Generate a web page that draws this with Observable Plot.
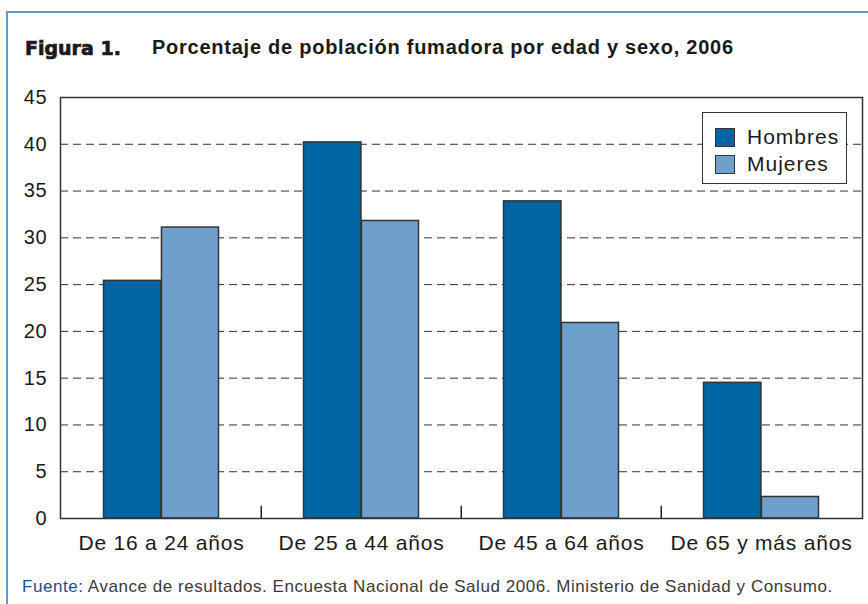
<!DOCTYPE html>
<html>
<head>
<meta charset="utf-8">
<script src="https://cdn.jsdelivr.net/npm/d3@7"></script>
<script src="https://cdn.jsdelivr.net/npm/@observablehq/plot@0.6"></script>
<style>
  html, body { margin: 0; padding: 0; background: #fff; }
  #wrap { position: relative; width: 868px; height: 604px; overflow: hidden; font-family: "Liberation Sans", Arial, sans-serif; }
  #border { position: absolute; left: 6px; top: 11px; width: 900px; height: 700px; border-top: 2px solid #5b9cce; border-left: 2px solid #5b9cce; }
  #fig { position: absolute; left: 25px; top: 37px; font-family: "DejaVu Sans", sans-serif; font-weight: bold; font-size: 19px; line-height: 22px; color: #1a1a1a; -webkit-text-stroke: 0.7px #1a1a1a; }
  #title { position: absolute; left: 152px; top: 36px; font-weight: bold; font-size: 20px; line-height: 22px; letter-spacing: 0.75px; color: #1a1a1a; white-space: nowrap; }
  #chart { position: absolute; left: 0; top: 80px; }
  #caption { position: absolute; left: 22px; top: 577px; font-size: 17px; line-height: 20px; letter-spacing: 0.55px; color: #3a3a3a; white-space: nowrap; }
  #caption b { font-weight: normal; color: #1d4f8a; }
  #legend { position: absolute; left: 702px; top: 112px; width: 143px; height: 70px; border: 1.5px solid #333; background: #fff; }
  .item { position: absolute; left: 12px; display: flex; align-items: center; font-size: 21px; letter-spacing: 1px; color: #1a1a1a; }
  .sw { width: 18px; height: 17px; border: 1.5px solid #333; margin-right: 12px; }
  svg text { letter-spacing: 0.8px; }
</style>
</head>
<body>
<div id="wrap">
  <div id="border"></div>
  <div id="fig">Figura 1.</div>
  <div id="title">Porcentaje de población fumadora por edad y sexo, 2006</div>
  <div id="chart"></div>
  <div id="legend"></div>
  <div id="caption"><b>Fuente:</b> Avance de resultados. Encuesta Nacional de Salud 2006. Ministerio de Sanidad y Consumo.</div>
</div>
<script>
const groups = ["De 16 a 24 años", "De 25 a 44 años", "De 45 a 64 años", "De 65 y más años"];
const series = ["Hombres", "Mujeres"];
const hombres = [25.4, 40.2, 33.9, 14.5];
const mujeres = [31.1, 31.8, 20.9, 2.3];
const yTicks = [0, 5, 10, 15, 20, 25, 30, 35, 40, 45];
const gridTicks = [5, 10, 15, 20, 25, 30, 35, 40];
const colors = {Hombres: "#0066a3", Mujeres: "#6f9fcb"};

const data = groups.flatMap((g, i) => [
  {group: g, sex: "Hombres", value: hombres[i]},
  {group: g, sex: "Mujeres", value: mujeres[i]}
]);

const W = 868, H = 490, ML = 60, MR = 6, MT = 17, MB = 52;
const bw = (W - ML - MR) / groups.length;

const chart = Plot.plot({
  width: W, height: H,
  marginLeft: ML, marginRight: MR, marginTop: MT, marginBottom: MB,
  style: {fontFamily: "'Liberation Sans', Arial, sans-serif", color: "#1a1a1a", background: "transparent"},
  x: {domain: groups, padding: 0, label: null},
  y: {domain: [0, 45], label: null},
  marks: [
    Plot.ruleY(gridTicks, {stroke: "#333", strokeWidth: 1, strokeDasharray: "8,5"}),
    Plot.barY(data.filter(d => d.sex === "Hombres"), {x: "group", y: "value", fill: colors.Hombres, stroke: "#333", strokeWidth: 1.5, insetLeft: bw * 0.212, insetRight: bw * 0.499}),
    Plot.barY(data.filter(d => d.sex === "Mujeres"), {x: "group", y: "value", fill: colors.Mujeres, stroke: "#333", strokeWidth: 1.5, insetLeft: bw * 0.501, insetRight: bw * 0.212}),
    Plot.ruleX(groups.slice(1), {x: d => d, y1: 0, y2: 1.3, dx: -bw / 2, stroke: "#222", strokeWidth: 1.5}),
    Plot.frame({stroke: "#333", strokeWidth: 1.5}),
    Plot.axisY({ticks: yTicks, tickSize: 0, tickPadding: 13, fontSize: 20, label: null}),
    Plot.axisX({tickSize: 0, tickPadding: 17, fontSize: 21, label: null})
  ]
});
document.getElementById("chart").appendChild(chart);

const legend = document.getElementById("legend");
series.forEach((s, i) => {
  const it = document.createElement("div");
  it.className = "item";
  it.style.top = (12 + i * 27) + "px";
  it.innerHTML = `<div class="sw" style="background:${colors[s]}"></div><span>${s}</span>`;
  legend.appendChild(it);
});
</script>
</body>
</html>
